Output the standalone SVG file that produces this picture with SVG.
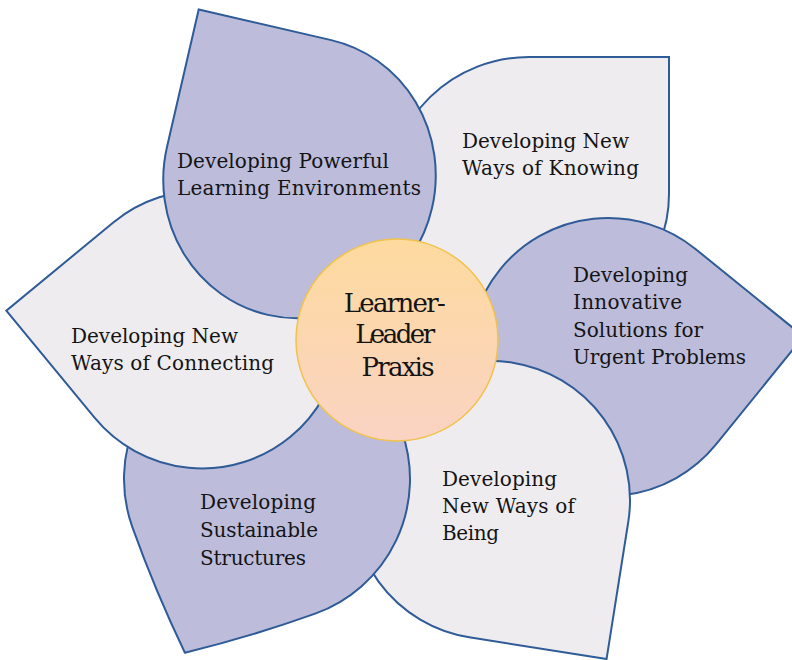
<svg xmlns="http://www.w3.org/2000/svg" width="792" height="660" viewBox="0 0 792 660">
  <defs>
    <style>
      .petal { stroke: #2F5B97; stroke-width: 2; stroke-linejoin: miter; }
      .dark { fill: #BDBCDB; }
      .light { fill: #EFECF0; }
      .lbl { font-family: "DejaVu Serif", "Liberation Serif", serif; font-size: 20px; fill: #141414; }
      .hub { font-family: "DejaVu Serif", "Liberation Serif", serif; font-size: 26px; fill: #141414; text-anchor: middle; }
    </style>
    <linearGradient id="hubFill" x1="0" y1="0" x2="0" y2="1">
      <stop offset="0" stop-color="#FDDA9E"/>
      <stop offset="1" stop-color="#FAD3C3"/>
    </linearGradient>
    <!-- teardrop: three rounded quadrants, square corner at top-right -->
    <path id="drop139" d="M -139 0 A 139 139 0 0 1 0 -139 L 139 -139 L 139 0 A 139 139 0 0 1 0 139 A 139 139 0 0 1 -139 0 Z"/>
  </defs>

  <rect width="792" height="660" fill="#FFFFFF"/>

  <!-- petals, back to front -->
  <g id="knowing">
    <path class="petal light" transform="translate(529,194)" d="M -140 0 A 140 137 0 0 1 0 -137 L 140 -137 L 140 0 A 140 137 0 0 1 0 137 A 140 137 0 0 1 -140 0 Z"/>
    <text class="lbl">
      <tspan x="462" y="148" textLength="167">Developing New</tspan>
      <tspan x="462" y="175" textLength="177">Ways of Knowing</tspan>
    </text>
  </g>

  <g id="innovative">
    <use href="#drop139" class="petal dark" transform="translate(608,357) rotate(39)"/>
    <text class="lbl">
      <tspan x="573" y="282" textLength="115">Developing</tspan>
      <tspan x="573" y="309" textLength="109">Innovative</tspan>
      <tspan x="573" y="337" textLength="130">Solutions for</tspan>
      <tspan x="573" y="364" textLength="173">Urgent Problems</tspan>
    </text>
  </g>

  <g id="being">
    <use href="#drop139" class="petal light" transform="translate(491,500) rotate(99)"/>
    <text class="lbl">
      <tspan x="442" y="486" textLength="115">Developing</tspan>
      <tspan x="442" y="513" textLength="133">New Ways of</tspan>
      <tspan x="442" y="540" textLength="57">Being</tspan>
    </text>
  </g>

  <g id="sustainable">
    <!-- slightly blunter tip: curved edges meeting at a wider angle -->
    <path class="petal dark" transform="translate(267,479) rotate(160.3)" d="M -143 0 A 143 143 0 0 1 0 -143 Q 67.9 -143 135.85 -135.85 Q 143 -67.9 143 0 A 143 143 0 0 1 0 143 A 143 143 0 0 1 -143 0 Z"/>
    <text class="lbl">
      <tspan x="200" y="509" textLength="116">Developing</tspan>
      <tspan x="200" y="537" textLength="118">Sustainable</tspan>
      <tspan x="200" y="565" textLength="106">Structures</tspan>
    </text>
  </g>

  <g id="connecting">
    <use href="#drop139" class="petal light" transform="translate(202,329.5) rotate(230.5)"/>
    <text class="lbl">
      <tspan x="71" y="343" textLength="167">Developing New</tspan>
      <tspan x="71" y="370" textLength="203">Ways of Connecting</tspan>
    </text>
  </g>

  <g id="powerful">
    <path class="petal dark" transform="translate(299.5,177.5) rotate(-77)" d="M -141 0 A 141 136 0 0 1 0 -136 L 141 -136 L 141 0 A 141 136 0 0 1 0 136 A 141 136 0 0 1 -141 0 Z"/>
    <text class="lbl">
      <tspan x="177" y="168" textLength="212">Developing Powerful</tspan>
      <tspan x="177" y="195" textLength="244">Learning Environments</tspan>
    </text>
  </g>

  <!-- hub -->
  <g id="praxis">
    <circle cx="397" cy="340" r="101" fill="url(#hubFill)" stroke="#F1C24C" stroke-width="1.5"/>
    <text class="hub">
      <tspan x="398" y="312" textLength="102">Learner-</tspan>
      <tspan x="398" y="343" textLength="80">Leader</tspan>
      <tspan x="398" y="376" textLength="73">Praxis</tspan>
    </text>
  </g>

  <g id="connectors"/>
</svg>
